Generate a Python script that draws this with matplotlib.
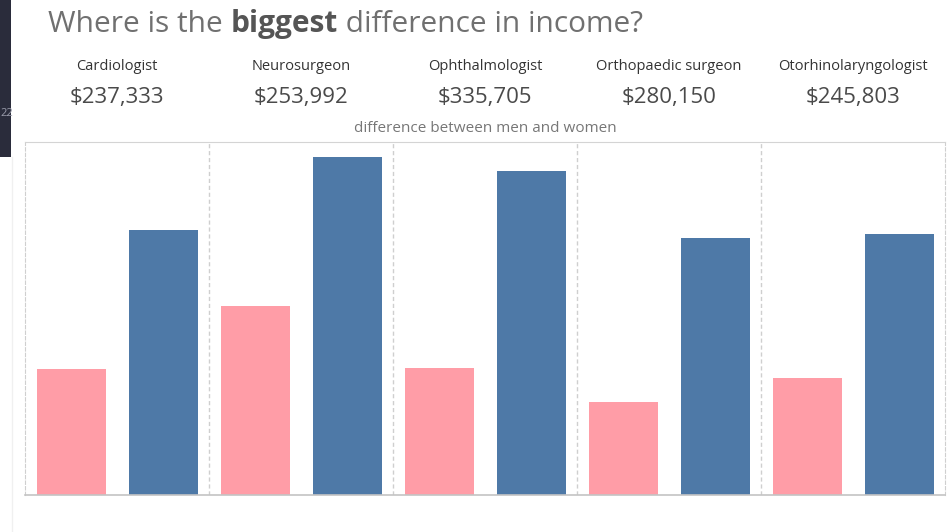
import matplotlib
matplotlib.use("Agg")
import matplotlib.pyplot as plt
from matplotlib.patches import Rectangle
from matplotlib.lines import Line2D

# Average annual income by specialty (USD)
specialties = ["Cardiologist", "Neurosurgeon", "Ophthalmologist",
               "Orthopaedic surgeon", "Otorhinolaryngologist"]
women = [214000, 322000, 216000, 158000, 199000]
men = [451333, 575992, 551705, 438150, 444803]

PINK = "#FF9DA7"
BLUE = "#4E79A7"

W, H = 953, 532
fig = plt.figure(figsize=(W / 100, H / 100), dpi=100)
fig.patch.set_facecolor("white")
plt.rcParams["font.family"] = ["Open Sans", "DejaVu Sans"]


def fx(px):
    return px / W


def fy(py):
    return 1 - py / H


# dark side strip of the dashboard
fig.patches.append(Rectangle((0, fy(157)), fx(11), 1 - fy(157), transform=fig.transFigure,
                             facecolor="#2a2c3b", edgecolor="none", zorder=0))
fig.text(fx(0), fy(114), "22", ha="left", va="center", fontsize=8, color="#9a9cab")
fig.lines.append(Line2D([fx(12), fx(12)], [0, fy(157)], transform=fig.transFigure,
                        color="#f0f0f0", lw=1))

# title with bold emphasis
TS = 21.5
TY = 24
t1 = fig.text(fx(48), fy(TY), "Where is the ", ha="left", va="center",
              fontsize=TS, color="#707070")
fig.canvas.draw()
r = fig.canvas.get_renderer()
bb = t1.get_window_extent(r)
t2 = fig.text(bb.x1 / W, fy(TY), "biggest", ha="left", va="center",
              fontsize=TS, color="#555555", fontweight="bold")
bb2 = t2.get_window_extent(r)
fig.text(bb2.x1 / W, fy(TY), " difference in income?", ha="left", va="center",
         fontsize=TS, color="#707070")

ax = fig.add_axes([fx(25), fy(495), fx(945) - fx(25), (495 - 142) / H])
n = len(specialties)
xs = list(range(n))
ax.bar([i + 0.25 for i in xs], women, width=0.375, color=PINK, zorder=2)
ax.bar([i + 0.75 for i in xs], men, width=0.375, color=BLUE, zorder=2)
ax.set_xlim(0, n)
ax.set_ylim(0, 601000)
ax.set_xticks([])
ax.set_yticks([])

for i in range(1, n):
    ax.axvline(i, color="#cfcfcf", lw=1, ls=(0, (3, 2)), zorder=1)

for side in ["left", "right"]:
    ax.spines[side].set_color("#cfcfcf")
    ax.spines[side].set_linestyle((0, (3, 2)))
ax.spines["top"].set_color("#d4d4d4")
ax.spines["bottom"].set_color("#c4c4c4")
ax.spines["bottom"].set_linewidth(1.2)

# headline numbers per panel
for i, name in enumerate(specialties):
    cx = fx(25) + (i + 0.5) / n * (fx(945) - fx(25))
    diff = men[i] - women[i]
    fig.text(cx, fy(67), name, ha="center", va="center", fontsize=10.5, color="#333333")
    fig.text(cx, fy(97), f"${diff:,.0f}", ha="center", va="center", fontsize=16,
             color="#4a4a4a")

fig.text(fx(485), fy(128), "difference between men and women", ha="center", va="center",
         fontsize=11, color="#777777")

fig.savefig("out.png", dpi=100, facecolor="white")
